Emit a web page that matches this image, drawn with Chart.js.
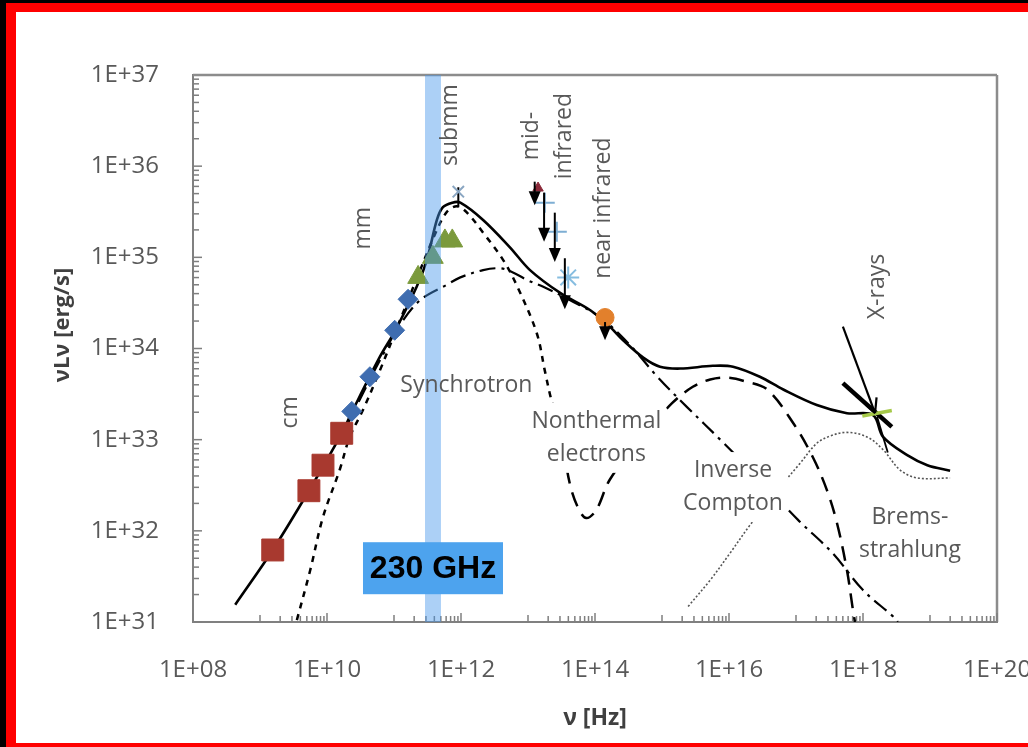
<!DOCTYPE html>
<html>
<head>
<meta charset="utf-8">
<script src="https://cdn.jsdelivr.net/npm/chart.js@4.4.1/dist/chart.umd.min.js"></script>
<style>
  html, body { margin: 0; padding: 0; background: #fff; overflow: hidden; width: 1028px; height: 747px; }
  .bar { position: absolute; }
  #sed { position: absolute; left: 0; top: 0; }
</style>
</head>
<body>
<!-- slide edge: black margin and red outline on top, left and bottom -->
<div class="bar" style="left:0;top:0;width:1028px;height:3px;background:#000"></div>
<div class="bar" style="left:0;top:0;width:6px;height:747px;background:#000"></div>
<div class="bar" style="left:6px;top:3px;width:1022px;height:9px;background:#f00"></div>
<div class="bar" style="left:6px;top:3px;width:10px;height:744px;background:#f00"></div>
<div class="bar" style="left:6px;top:743px;width:1022px;height:4px;background:#f00"></div>
<canvas id="sed" width="1028" height="747"></canvas>
<script>
// All values are log10: frequency nu [Hz] and luminosity nuLnu [erg/s]

// decade ticks
const xDecades = [8, 10, 12, 14, 16, 18, 20];
const yDecades = [31, 32, 33, 34, 35, 36, 37];

// total model (solid)
const totalNu = [8.63, 9.19, 9.73, 10.22, 10.37, 10.79, 11.02, 11.34, 11.49, 11.64, 11.73, 11.87, 11.99, 12.33, 12.73, 13.03, 13.48, 13.93, 14.22, 14.42, 14.72, 14.97, 15.27, 15.76, 16.06, 16.46, 16.81, 17.31, 17.76, 18.15, 18.30, 18.66, 18.96, 19.30];
const totalL  = [31.19, 31.79, 32.44, 33.07, 33.30, 33.91, 34.20, 34.68, 34.97, 35.41, 35.55, 35.60, 35.60, 35.41, 35.11, 34.86, 34.61, 34.42, 34.24, 34.09, 33.90, 33.80, 33.78, 33.81, 33.80, 33.69, 33.55, 33.38, 33.29, 33.27, 33.03, 32.83, 32.72, 32.66];

// thermal synchrotron (short dashes)
const synNu = [9.55, 9.75, 9.94, 10.19, 10.34, 10.54, 10.79, 11.09, 11.39, 11.61, 11.79, 11.94, 12.09, 12.33, 12.63, 12.84, 13.13, 13.25, 13.33, 13.37];
const synL  = [31.02, 31.57, 32.15, 32.67, 33.03, 33.33, 33.76, 34.31, 34.86, 35.25, 35.50, 35.56, 35.49, 35.27, 34.97, 34.68, 34.17, 33.76, 33.49, 33.38];

// nonthermal electrons / inverse Compton (long dashes)
const icNu = [13.52, 13.63, 13.75, 13.87, 14.02, 14.22, 14.67, 15.15, 15.46, 15.72, 15.97, 16.24, 16.57, 16.96, 17.25, 17.46, 17.61, 17.76, 17.85, 17.88];
const icL  = [32.94, 32.50, 32.25, 32.14, 32.23, 32.56, 33.00, 33.40, 33.58, 33.66, 33.68, 33.64, 33.55, 33.18, 32.81, 32.45, 32.09, 31.57, 31.13, 31.00];

// nonthermal synchrotron (dash-dot)
const ntNu = [10.27, 10.49, 10.79, 11.09, 11.39, 11.79, 11.99, 12.33, 12.58, 12.76, 12.99, 13.22, 13.63, 14.08, 14.52, 14.93, 15.37, 15.87, 16.46, 17.03, 17.54, 18.00, 18.45, 18.52];
const ntL  = [33.11, 33.44, 33.87, 34.26, 34.53, 34.70, 34.78, 34.86, 34.88, 34.84, 34.75, 34.68, 34.53, 34.34, 34.04, 33.69, 33.36, 33.00, 32.56, 32.12, 31.76, 31.35, 31.06, 31.00];

// bremsstrahlung (dotted)
const bremsNu = [15.39, 15.72, 16.02, 16.31, 16.69, 17.06, 17.31, 17.51, 17.76, 18.06, 18.30, 18.55, 18.81, 19.30];
const bremsL  = [31.17, 31.46, 31.76, 32.06, 32.42, 32.74, 32.96, 33.04, 33.08, 33.03, 32.89, 32.67, 32.58, 32.58];

// measurements
const cmNu = [9.19, 9.73, 9.94, 10.22];
const cmL  = [31.79, 32.44, 32.72, 33.07];
const mmNu = [10.37, 10.64, 11.01, 11.21];
const mmL  = [33.31, 33.69, 34.20, 34.54];
const submmNu = [11.36, 11.58, 11.76, 11.87];
const submmL  = [34.78, 35.00, 35.18, 35.18];
const peakNu = [11.96];
const peakL  = [35.72];
const peakErr = [35.77, 35.55];
const midirNu = [13.15];
const midirL  = [35.76];
const plusNu = [13.25, 13.43];
const plusL  = [35.60, 35.28];
const starNu = [13.60];
const starL  = [34.78];
const nirNu = [14.15];
const nirL  = [34.34];

// upper limits (arrow from top down to bottom)
const limitNu     = [13.10, 13.24, 13.40, 13.55, 14.15];
const limitTop    = [35.83, 35.71, 35.49, 34.99, 34.29];
const limitBottom = [35.57, 35.17, 34.95, 34.43, 34.09];

// X-ray power law and pointer
const xrayNu = [17.99, 18.43];
const xrayL  = [33.26, 33.32];
const xrayBarNu = [17.70, 18.43];
const xrayBarL  = [33.62, 33.14];
const xrayWingNu = [18.21, 18.37];
const xrayWingL  = [33.25, 32.86];
const xrayArrowNu = [17.70, 18.18];
const xrayArrowL  = [34.24, 33.29];

// observing band
const bandNu = [11.463, 11.701];

const pts = (lx, ly) => lx.map((v, i) => ({ x: 10 ** v, y: 10 ** ly[i] }));
const expLabel = v => '1E+' + String(Math.round(Math.log10(v))).padStart(2, '0');

const FONT = 'Open Sans';
const GREY = '#595959';

// annotation texts, anchored in data space
const notes = [
  { lines: ['cm'], nu: 9.46, L: 33.30, rot: true },
  { lines: ['mm'], nu: 10.54, L: 35.32, rot: true },
  { lines: ['submm'], nu: 11.84, L: 36.45, rot: true },
  { lines: ['mid-', 'infrared'], nu: 13.30, L: 36.33, rot: true },
  { lines: ['near infrared'], nu: 14.12, L: 35.54, rot: true },
  { lines: ['X-rays'], nu: 18.22, L: 34.68, rot: true },
  { lines: ['Synchrotron'], nu: 12.08, L: 33.59 },
  { lines: ['Nonthermal', 'electrons'], nu: 14.02, L: 33.02, bg: true },
  { lines: ['Inverse', 'Compton'], nu: 16.06, L: 32.48, bg: true },
  { lines: ['Brems-', 'strahlung'], nu: 18.70, L: 31.97 }
];

function line(ctx, x0, y0, x1, y1) {
  ctx.beginPath(); ctx.moveTo(x0, y0); ctx.lineTo(x1, y1); ctx.stroke();
}

const sedExtras = {
  id: 'sedExtras',
  beforeDatasetsDraw(chart) {
    const { ctx, chartArea: a, scales: { x, y } } = chart;
    ctx.save();
    // top and right frame
    ctx.strokeStyle = '#8c8c8c';
    ctx.lineWidth = 2.5;
    line(ctx, a.left, a.top, a.right, a.top);
    line(ctx, a.right, a.top, a.right, a.bottom);
    // inward tick marks
    ctx.strokeStyle = '#7f7f7f';
    ctx.lineWidth = 1.5;
    for (let d = 31; d < 37; d++) {
      for (let k = 1; k <= 9; k++) {
        const py = y.getPixelForValue(k * 10 ** d);
        line(ctx, a.left, py, a.left + (k === 1 ? 9 : 6), py);
      }
    }
    for (let d = 9; d < 20; d += 2) {
      for (let k = 1; k <= 9; k++) {
        const px = x.getPixelForValue(k * 10 ** d);
        line(ctx, px, a.bottom, px, a.bottom - (k === 1 ? 7 : 6));
      }
    }
    xDecades.forEach(d => {
      const px = x.getPixelForValue(10 ** d);
      line(ctx, px, a.bottom, px, a.bottom - 9);
    });

    // vertical axis title
    ctx.translate(63, 325);
    ctx.rotate(-Math.PI / 2);
    ctx.fillStyle = '#404040';
    ctx.font = `bold 22px "${FONT}"`;
    ctx.textAlign = 'center';
    ctx.textBaseline = 'middle';
    ctx.fillText('νLν [erg/s]', 0, 0);
    ctx.restore();
  },
  afterDatasetsDraw(chart) {
    const { ctx, chartArea: a, scales: { x, y } } = chart;
    const X = v => x.getPixelForValue(10 ** v);
    const Y = v => y.getPixelForValue(10 ** v);
    ctx.save();

    // translucent band over the data
    const b0 = X(bandNu[0]), b1 = X(bandNu[1]);
    ctx.fillStyle = 'rgba(70, 150, 235, 0.45)';
    ctx.fillRect(b0, a.top, b1 - b0, a.bottom - a.top);

    // upper limits
    ctx.strokeStyle = '#000';
    ctx.fillStyle = '#000';
    ctx.lineWidth = 2;
    limitNu.forEach((nu, i) => {
      const px = X(nu), pt = Y(limitTop[i]), pb = Y(limitBottom[i]);
      line(ctx, px, pt, px, pb - 10);
      ctx.beginPath();
      ctx.moveTo(px, pb);
      ctx.lineTo(px - 6, pb - 14);
      ctx.lineTo(px + 6, pb - 14);
      ctx.closePath();
      ctx.fill();
    });

    // X-ray pointer
    const ax0 = X(xrayArrowNu[0]), ay0 = Y(xrayArrowL[0]);
    const ax1 = X(xrayArrowNu[1]), ay1 = Y(xrayArrowL[1]);
    const ang = Math.atan2(ay1 - ay0, ax1 - ax0);
    ctx.lineWidth = 2.2;
    line(ctx, ax0, ay0, ax1, ay1);
    [0.45, -0.45].forEach(da => {
      line(ctx, ax1, ay1, ax1 - 16 * Math.cos(ang + da), ay1 - 16 * Math.sin(ang + da));
    });

    // labels
    ctx.font = `23px "${FONT}"`;
    ctx.textAlign = 'center';
    ctx.textBaseline = 'middle';
    const lh = 33;
    notes.forEach(n => {
      ctx.save();
      ctx.translate(X(n.nu), Y(n.L));
      if (n.rot) ctx.rotate(-Math.PI / 2);
      const h = lh * n.lines.length;
      if (n.bg) {
        const w = Math.max(...n.lines.map(t => ctx.measureText(t).width));
        ctx.fillStyle = '#fff';
        ctx.fillRect(-w / 2 - 5, -h / 2 - 2, w + 10, h + 4);
      }
      ctx.fillStyle = GREY;
      n.lines.forEach((t, i) => ctx.fillText(t, 0, -h / 2 + lh * (i + 0.5)));
      ctx.restore();
    });

    // frequency tag
    const tx = (b0 + b1) / 2, ty = Y(31.59);
    ctx.fillStyle = '#4da3ee';
    ctx.fillRect(tx - 70, ty - 26, 140, 52);
    ctx.fillStyle = '#000';
    ctx.font = 'bold 32px "Liberation Sans"';
    ctx.fillText('230 GHz', tx, ty + 1);
    ctx.restore();
  }
};

const curve = (lx, ly, opts) => Object.assign({
  type: 'line', data: pts(lx, ly), showLine: true, pointRadius: 0,
  borderColor: '#000', borderWidth: 2.5, tension: 0.35, fill: false
}, opts);

const marker = (lx, ly, opts) => Object.assign({
  data: pts(lx, ly), showLine: false, pointBorderWidth: 1
}, opts);

new Chart(document.getElementById('sed'), {
  type: 'scatter',
  data: {
    datasets: [
      marker(nirNu, nirL, { pointStyle: 'circle', pointRadius: 9, backgroundColor: '#e2802c', borderColor: '#e2802c' }),
      marker(starNu, starL, { pointStyle: 'star', pointRadius: 11, borderColor: '#86bde0', pointBorderWidth: 2 }),
      marker(plusNu, plusL, { pointStyle: 'cross', pointRadius: 10, borderColor: '#7eaed3', pointBorderWidth: 2 }),
      marker(midirNu, midirL, { pointStyle: 'triangle', pointRadius: 6, backgroundColor: '#8b2a3a', borderColor: '#8b2a3a' }),
      marker(peakNu, peakL, { pointStyle: 'crossRot', pointRadius: 8, borderColor: '#8aa6c2', pointBorderWidth: 2 }),
      curve([peakNu[0], peakNu[0]], peakErr, { borderWidth: 2, tension: 0 }),
      marker(submmNu, submmL, { pointStyle: 'triangle', pointRadius: 12, backgroundColor: '#7b9a3c', borderColor: '#7b9a3c' }),
      marker(mmNu, mmL, { pointStyle: 'rectRot', pointRadius: 10, backgroundColor: '#3f6db0', borderColor: '#3f6db0' }),
      marker(cmNu, cmL, { pointStyle: 'rect', pointRadius: 15.5, backgroundColor: '#a8392f', borderColor: '#a8392f' }),
      curve(xrayNu, xrayL, { borderColor: '#a6c94a', borderWidth: 3.5, tension: 0 }),
      curve(xrayBarNu, xrayBarL, { borderWidth: 4.5, tension: 0 }),
      curve(xrayWingNu, xrayWingL, { borderWidth: 1.8, tension: 0 }),
      curve(totalNu, totalL, { borderWidth: 2.6 }),
      curve(synNu, synL, { borderDash: [6, 6] }),
      curve(icNu, icL, { borderDash: [15, 9] }),
      curve(ntNu, ntL, { borderDash: [16, 6, 3, 6], borderWidth: 2.2 }),
      curve(bremsNu, bremsL, { borderDash: [2, 2], borderWidth: 1.6, borderColor: '#555' })
    ]
  },
  options: {
    responsive: false,
    devicePixelRatio: 1,
    animation: false,
    events: [],
    layout: { padding: { left: 20, top: 75, right: 31, bottom: 10 } },
    plugins: { legend: { display: false }, tooltip: { enabled: false } },
    scales: {
      x: {
        type: 'logarithmic', min: 1e8, max: 1e20,
        afterBuildTicks: s => { s.ticks = xDecades.map(d => ({ value: 10 ** d })); },
        afterFit: s => { s.height = 115; s.paddingLeft = 0; s.paddingRight = 0; },
        grid: { display: false },
        border: { display: true, color: '#808080', width: 2 },
        ticks: {
          padding: 26, color: GREY, autoSkip: false, maxRotation: 0,
          font: { family: FONT, size: 24 }, callback: v => expLabel(v)
        },
        title: {
          display: true, text: 'ν [Hz]', color: '#404040',
          font: { family: FONT, size: 23, weight: 'bold' }, padding: { top: 0, bottom: 5 }
        }
      },
      y: {
        type: 'logarithmic', min: 1e31, max: 1e37,
        afterBuildTicks: s => { s.ticks = yDecades.map(d => ({ value: 10 ** d })); },
        afterFit: s => { s.width = 173; s.paddingTop = 0; s.paddingBottom = 0; },
        grid: { display: false },
        border: { display: true, color: '#808080', width: 2 },
        ticks: {
          padding: 26, color: GREY, autoSkip: false,
          font: { family: FONT, size: 24 }, callback: v => expLabel(v)
        }
      }
    }
  },
  plugins: [sedExtras]
});
</script>
</body>
</html>
